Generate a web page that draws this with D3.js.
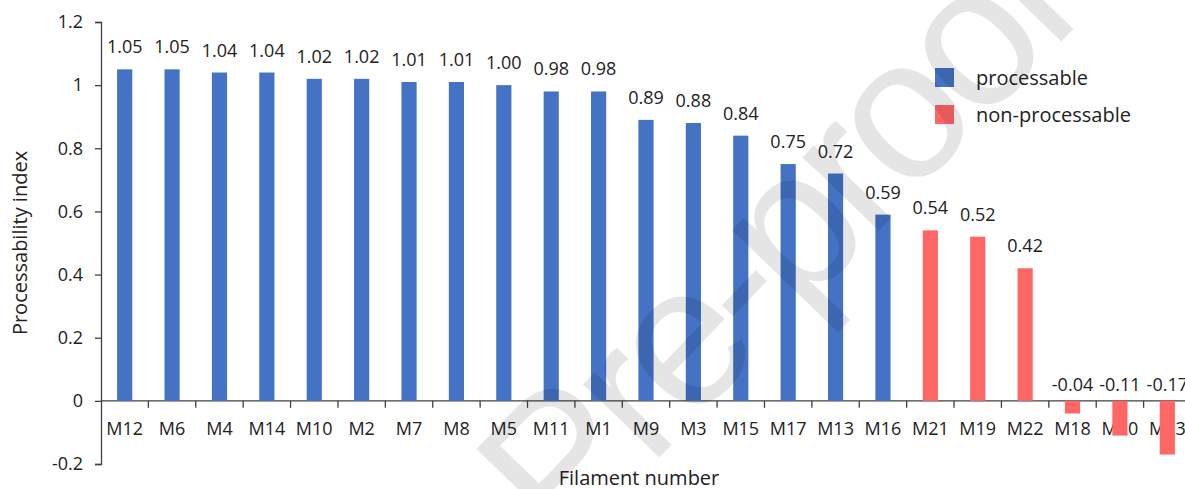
<!DOCTYPE html>
<html>
<head>
<meta charset="utf-8">
<script src="https://cdn.jsdelivr.net/npm/d3@7/dist/d3.min.js"></script>
<style>
  body { margin: 0; background: #fff; }
  text { font-family: "Open Sans", sans-serif; fill: #222; }
</style>
</head>
<body>
<div id="chart"></div>
<script>
// filament names, sorted by processability index
const filaments = ["M12", "M6", "M4", "M14", "M10", "M2", "M7", "M8", "M5", "M11", "M1",
                   "M9", "M3", "M15", "M17", "M13", "M16", "M21", "M19", "M22", "M18", "M20", "M23"];
const indexValues = [1.05, 1.05, 1.04, 1.04, 1.02, 1.02, 1.01, 1.01, 1.00, 0.98, 0.98,
                     0.89, 0.88, 0.84, 0.75, 0.72, 0.59, 0.54, 0.52, 0.42, -0.04, -0.11, -0.17];
const groups = ["processable", "processable", "processable", "processable", "processable",
                "processable", "processable", "processable", "processable", "processable",
                "processable", "processable", "processable", "processable", "processable",
                "processable", "processable", "non-processable", "non-processable",
                "non-processable", "non-processable", "non-processable", "non-processable"];
const legendItems = ["processable", "non-processable"];
const yTicks = [-0.2, 0, 0.2, 0.4, 0.6, 0.8, 1, 1.2];

const width = 1185, height = 489;
const data = filaments.map((f, i) => ({ name: f, value: indexValues[i], group: groups[i] }));

// plain hyphen for negatives, like the original
const fmt2 = v => d3.format(".2f")(v).replace("\u2212", "-");
const fmtTick = v => (v === 0 || v === 1 ? d3.format("d")(v) : d3.format(".1f")(v)).replace("\u2212", "-");

const svg = d3.select("#chart").append("svg")
    .attr("width", width)
    .attr("height", height);

const x = d3.scaleBand()
    .domain(filaments)
    .range([101, 1191])
    .paddingInner(0.68)
    .paddingOuter(0.34);

const y = d3.scaleLinear()
    .domain([-0.2, 1.2])
    .range([464, 22]);

const colour = d3.scaleOrdinal()
    .domain(legendItems)
    .range(["#4472c4", "#ff6666"]);

// y axis
const yAxis = d3.axisLeft(y)
    .tickValues(yTicks)
    .tickSize(6)
    .tickPadding(12)
    .tickFormat(fmtTick);

const yAxisG = svg.append("g")
    .attr("transform", "translate(101,0)")
    .call(yAxis);
yAxisG.select(".domain").attr("stroke", "#404040").attr("stroke-width", 1.3);
yAxisG.selectAll(".tick line").attr("stroke", "#404040").attr("stroke-width", 1.3);
yAxisG.selectAll(".tick text")
    .style("font-size", "18px")
    .style("font-family", "Open Sans, sans-serif")
    .attr("fill", "#222");

// x axis along zero, ticks between categories
const step = x.step();
svg.append("line")
    .attr("x1", x.range()[0]).attr("x2", x.range()[1])
    .attr("y1", y(0)).attr("y2", y(0))
    .attr("stroke", "#404040").attr("stroke-width", 1.3);

svg.append("g").selectAll("line")
    .data(filaments)
    .join("line")
    .attr("x1", d => x(d) + x.bandwidth() + (step - x.bandwidth()) / 2)
    .attr("x2", d => x(d) + x.bandwidth() + (step - x.bandwidth()) / 2)
    .attr("y1", y(0))
    .attr("y2", y(0) + 7)
    .attr("stroke", "#404040").attr("stroke-width", 1.3);

svg.append("g").selectAll("text")
    .data(filaments)
    .join("text")
    .attr("x", d => x(d) + x.bandwidth() / 2)
    .attr("y", y(0) + 34)
    .attr("text-anchor", "middle")
    .style("font-size", "18px")
    .text(d => d);

// bars
svg.append("g").selectAll("rect")
    .data(data)
    .join("rect")
    .attr("x", d => x(d.name))
    .attr("width", x.bandwidth())
    .attr("y", d => y(Math.max(0, d.value)))
    .attr("height", d => Math.abs(y(d.value) - y(0)))
    .attr("fill", d => colour(d.group));

// value labels
svg.append("g").selectAll("text")
    .data(data)
    .join("text")
    .attr("x", d => x(d.name) + x.bandwidth() / 2)
    .attr("y", d => d.value >= 0 ? y(d.value) - 16 : y(0) - 10)
    .attr("text-anchor", "middle")
    .style("font-size", "18px")
    .text(d => fmt2(d.value));

// axis titles
svg.append("text")
    .attr("transform", `translate(27,${(y(1.2) + y(-0.2)) / 2}) rotate(-90)`)
    .attr("text-anchor", "middle")
    .style("font-size", "20px")
    .text("Processability index");

svg.append("text")
    .attr("x", 639)
    .attr("y", 485)
    .attr("text-anchor", "middle")
    .style("font-size", "20px")
    .text("Filament number");

// legend
const legend = svg.append("g").attr("transform", "translate(935,68)");
legend.selectAll("rect")
    .data(legendItems)
    .join("rect")
    .attr("x", 0)
    .attr("y", (d, i) => i * 37)
    .attr("width", 19)
    .attr("height", 19)
    .attr("fill", d => colour(d));
legend.selectAll("text")
    .data(legendItems)
    .join("text")
    .attr("x", 41)
    .attr("y", (d, i) => i * 37 + 17)
    .style("font-size", "20px")
    .text(d => d);

// watermark
svg.append("text")
    .attr("transform", "translate(603,516) rotate(-46)")
    .attr("text-anchor", "middle")
    .style("font-family", "Liberation Sans, Arial, sans-serif")
    .style("font-size", "200px")
    .style("letter-spacing", "-10px")
    .style("fill", "#000")
    .style("fill-opacity", 0.1)
    .text("Journal Pre-proof");
</script>
</body>
</html>
